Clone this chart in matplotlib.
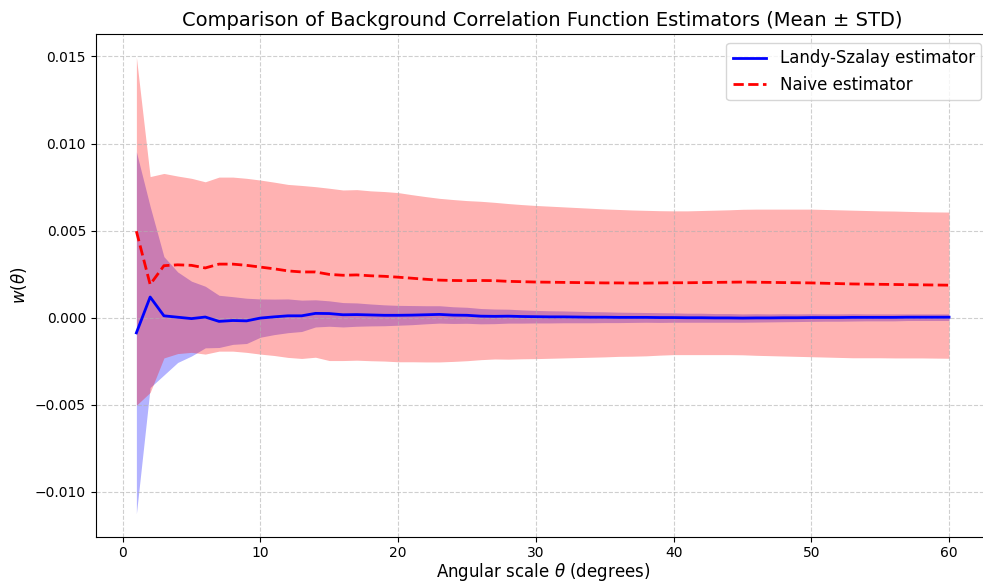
import numpy as np
import matplotlib.pyplot as plt

# angular bins (degrees)
theta = np.arange(1, 61)

# Landy-Szalay estimator: mean and standard deviation over realisations
ls_mean = [
    -0.00088, 0.00118, 0.00010, 0.00002, -0.00006, 0.00003, -0.00022, -0.00017, -0.00019, -0.00003,
    0.00004, 0.00010, 0.00010, 0.00024, 0.00023, 0.00016, 0.00017, 0.00015, 0.00013, 0.00013,
    0.00014, 0.00016, 0.00018, 0.00014, 0.00013, 0.00008, 0.00007, 0.00008, 0.00006, 0.00005,
    0.00004, 0.00004, 0.00003, 0.00002, 0.00002, 0.00001, 0.00001, 0.00001, 0.00000, 0.00000,
    -0.00001, -0.00001, -0.00002, -0.00002, -0.00003, -0.00002, -0.00002, -0.00001, -0.00001, 0.00000,
    0.00000, 0.00000, 0.00001, 0.00001, 0.00001, 0.00001, 0.00002, 0.00002, 0.00002, 0.00002,
]
ls_std = [
    0.01040, 0.00520, 0.00340, 0.00260, 0.00215, 0.00177, 0.00150, 0.00137, 0.00130, 0.00110,
    0.00102, 0.00097, 0.00090, 0.00078, 0.00073, 0.00070, 0.00067, 0.00063, 0.00060, 0.00057,
    0.00055, 0.00052, 0.00050, 0.00048, 0.00046, 0.00044, 0.00042, 0.00040, 0.00038, 0.00036,
    0.00035, 0.00034, 0.00033, 0.00032, 0.00031, 0.00030, 0.00029, 0.00028, 0.00028, 0.00027,
    0.00026, 0.00026, 0.00025, 0.00025, 0.00024, 0.00024, 0.00023, 0.00023, 0.00022, 0.00022,
    0.00021, 0.00021, 0.00021, 0.00020, 0.00020, 0.00020, 0.00019, 0.00019, 0.00019, 0.00019,
]

# naive estimator: mean and standard deviation
nv_mean = [
    0.00496, 0.00190, 0.00298, 0.00303, 0.00300, 0.00285, 0.00307, 0.00307, 0.00300, 0.00290,
    0.00280, 0.00268, 0.00262, 0.00262, 0.00248, 0.00243, 0.00245, 0.00240, 0.00237, 0.00232,
    0.00226, 0.00220, 0.00215, 0.00213, 0.00212, 0.00213, 0.00212, 0.00208, 0.00206, 0.00204,
    0.00203, 0.00202, 0.00201, 0.00200, 0.00199, 0.00199, 0.00198, 0.00198, 0.00199, 0.00200,
    0.00200, 0.00201, 0.00202, 0.00203, 0.00204, 0.00203, 0.00202, 0.00201, 0.00200, 0.00199,
    0.00197, 0.00195, 0.00193, 0.00192, 0.00191, 0.00190, 0.00189, 0.00188, 0.00187, 0.00186,
]
nv_std = [
    0.01000, 0.00620, 0.00530, 0.00510, 0.00500, 0.00495, 0.00500, 0.00500, 0.00500, 0.00500,
    0.00498, 0.00497, 0.00497, 0.00490, 0.00495, 0.00490, 0.00490, 0.00488, 0.00487, 0.00486,
    0.00480, 0.00475, 0.00470, 0.00465, 0.00460, 0.00455, 0.00450, 0.00447, 0.00443, 0.00440,
    0.00437, 0.00434, 0.00431, 0.00428, 0.00425, 0.00422, 0.00420, 0.00418, 0.00415, 0.00413,
    0.00413, 0.00414, 0.00415, 0.00416, 0.00418, 0.00420, 0.00421, 0.00422, 0.00423, 0.00424,
    0.00424, 0.00424, 0.00424, 0.00423, 0.00422, 0.00422, 0.00421, 0.00420, 0.00420, 0.00420,
]

ls_mean = np.array(ls_mean)
ls_std = np.array(ls_std)
nv_mean = np.array(nv_mean)
nv_std = np.array(nv_std)

fig, ax = plt.subplots(figsize=(9.83, 5.82), dpi=100)

ax.plot(theta, ls_mean, color='blue', lw=2, label='Landy-Szalay estimator')
ax.fill_between(theta, ls_mean - ls_std, ls_mean + ls_std, color='blue', alpha=0.3, lw=0)
ax.plot(theta, nv_mean, color='red', ls='--', lw=2, label='Naive estimator')
ax.fill_between(theta, nv_mean - nv_std, nv_mean + nv_std, color='red', alpha=0.3, lw=0)

ax.set_xlabel(r'Angular scale $\theta$ (degrees)', fontsize=12, labelpad=0.5)
ax.set_ylabel(r'$w(\theta)$', fontsize=12)
ax.set_title('Comparison of Background Correlation Function Estimators (Mean ± STD)', fontsize=14)
ax.legend(fontsize=12, loc='upper right')
ax.grid(True, linestyle='--', alpha=0.6)

# right spine sits just past the figure edge
plt.subplots_adjust(left=0.0974, right=1.0068, top=0.941, bottom=0.0778)
plt.savefig('out.png', dpi=100)
